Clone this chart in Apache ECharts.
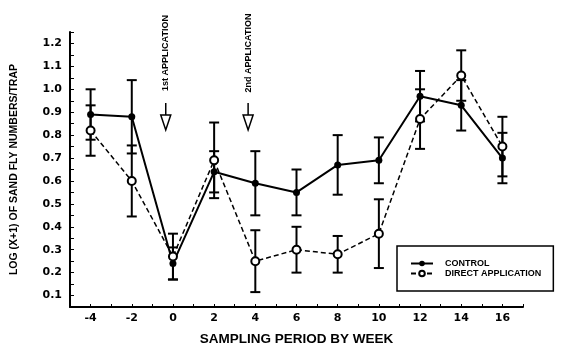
<!DOCTYPE html>
<html>
<head>
<meta charset="utf-8">
<script src="https://cdn.jsdelivr.net/npm/echarts@6/dist/echarts.min.js"></script>
<style>
  html, body { margin: 0; padding: 0; background: #fff; }
  #main { width: 565px; height: 351px; }
</style>
</head>
<body>
<div id="main"></div>
<script>
// 数据：采样周次、两组均值和误差
var weeks = [-4, -2, 0, 2, 4, 6, 8, 10, 12, 14, 16];
var control = [0.89, 0.88, 0.24, 0.64, 0.59, 0.55, 0.67, 0.69, 0.97, 0.93, 0.70];
var controlErr = [0.11, 0.16, 0.07, 0.09, 0.14, 0.10, 0.13, 0.10, 0.11, 0.11, 0.11];
var direct = [0.82, 0.60, 0.27, 0.69, 0.25, 0.30, 0.28, 0.37, 0.87, 1.06, 0.75];
var directErr = [0.11, 0.155, 0.10, 0.165, 0.135, 0.10, 0.08, 0.15, 0.13, 0.11, 0.13];
var seriesNames = ['CONTROL', 'DIRECT APPLICATION'];
// 施药时间标注
var applications = [{ week: -0.35, text: '1st APPLICATION' }, { week: 3.65, text: '2nd APPLICATION' }];

var myChart = echarts.init(document.getElementById('main'), null, { renderer: 'canvas' });

function pairs(ys) {
    return weeks.map(function (w, i) { return [w, ys[i]]; });
}
function errData(ys, es) {
    return weeks.map(function (w, i) { return [w, ys[i] - es[i], ys[i] + es[i]]; });
}
// 误差棒
function renderErr(params, api) {
    var lo = api.coord([api.value(0), api.value(1)]);
    var hi = api.coord([api.value(0), api.value(2)]);
    var half = 5;
    var style = { stroke: '#000', lineWidth: 2 };
    return {
        type: 'group',
        children: [
            { type: 'line', shape: { x1: lo[0], y1: lo[1], x2: hi[0], y2: hi[1] }, style: style },
            { type: 'line', shape: { x1: lo[0] - half, y1: lo[1], x2: lo[0] + half, y2: lo[1] }, style: style },
            { type: 'line', shape: { x1: hi[0] - half, y1: hi[1], x2: hi[0] + half, y2: hi[1] }, style: style }
        ]
    };
}

var tickFont = { color: '#000', fontFamily: 'DejaVu Sans', fontWeight: 'bold', fontSize: 11 };

var option = {
    animation: false,
    grid: { left: 70, right: 42, top: 32, bottom: 38 },
    legend: {
        data: seriesNames,
        orient: 'vertical',
        left: 397,
        top: 246,
        padding: [13, 12, 13, 13],
        borderColor: '#000',
        borderWidth: 1.5,
        itemWidth: 22,
        itemHeight: 7,
        itemGap: 1,
        textStyle: {
            color: '#000', fontFamily: 'Liberation Sans', fontWeight: 'bold',
            fontSize: 9, lineHeight: 9, padding: [0, 0, 0, 7]
        }
    },
    xAxis: {
        type: 'value',
        min: -5,
        max: 17,
        interval: 1,
        name: 'SAMPLING PERIOD BY WEEK',
        nameLocation: 'middle',
        nameGap: 25,
        nameTextStyle: { color: '#000', fontFamily: 'Liberation Sans', fontWeight: 'bold', fontSize: 13.5 },
        axisLine: { onZero: false, lineStyle: { color: '#000', width: 2 } },
        axisTick: { inside: true, length: 3, lineStyle: { color: '#000' } },
        splitLine: { show: false },
        axisLabel: Object.assign({
            margin: 6,
            formatter: function (v) {
                return (v % 2 === 0 && v >= -4 && v <= 16) ? String(v) : '';
            }
        }, tickFont)
    },
    yAxis: {
        type: 'value',
        min: 0.05,
        max: 1.25,
        interval: 0.05,
        name: 'LOG (X+1) OF SAND FLY NUMBERS/TRAP',
        nameLocation: 'middle',
        nameGap: 50,
        nameTextStyle: { color: '#000', fontFamily: 'Liberation Sans', fontWeight: 'bold', fontSize: 10.5 },
        axisLine: { show: true, onZero: false, lineStyle: { color: '#000', width: 2 } },
        axisTick: { show: true, inside: true, length: 4, lineStyle: { color: '#000' } },
        splitLine: { show: false },
        axisLabel: Object.assign({
            margin: 8,
            formatter: function (v) {
                var k = Math.round(v * 100);
                return k % 10 === 0 ? (k / 100).toFixed(1) : '';
            }
        }, tickFont)
    },
    series: [
        {
            name: seriesNames[0],
            type: 'line',
            data: pairs(control),
            symbol: 'circle',
            symbolSize: 7,
            itemStyle: { color: '#000' },
            lineStyle: { color: '#000', width: 2 },
            z: 3
        },
        {
            name: seriesNames[1],
            type: 'line',
            data: pairs(direct),
            symbol: 'emptyCircle',
            symbolSize: 8,
            itemStyle: { color: '#000', borderWidth: 1.5 },
            lineStyle: { color: '#000', width: 1.5, type: [5, 3] },
            z: 3
        },
        {
            type: 'custom',
            renderItem: renderErr,
            data: errData(control, controlErr),
            z: 2
        },
        {
            type: 'custom',
            renderItem: renderErr,
            data: errData(direct, directErr),
            z: 2
        }
    ]
};

myChart.setOption(option);

// 施药标注：竖排文字 + 空心箭头
var graphics = [];
applications.forEach(function (a) {
    var x = myChart.convertToPixel({ xAxisIndex: 0 }, a.week);
    graphics.push({
        type: 'text',
        x: x,
        y: 53,
        rotation: Math.PI / 2,
        style: {
            text: a.text, x: 0, y: 0, align: 'center', verticalAlign: 'middle',
            fill: '#000', font: 'bold 9px "Liberation Sans"'
        }
    });
    graphics.push({
        type: 'line',
        shape: { x1: x, y1: 103, x2: x, y2: 115 },
        style: { stroke: '#000', lineWidth: 1.5 }
    });
    graphics.push({
        type: 'polygon',
        shape: { points: [[x - 5, 115], [x + 5, 115], [x, 130]] },
        style: { fill: '#fff', stroke: '#000', lineWidth: 1.5 }
    });
});
myChart.setOption({ graphic: graphics });
</script>
</body>
</html>
